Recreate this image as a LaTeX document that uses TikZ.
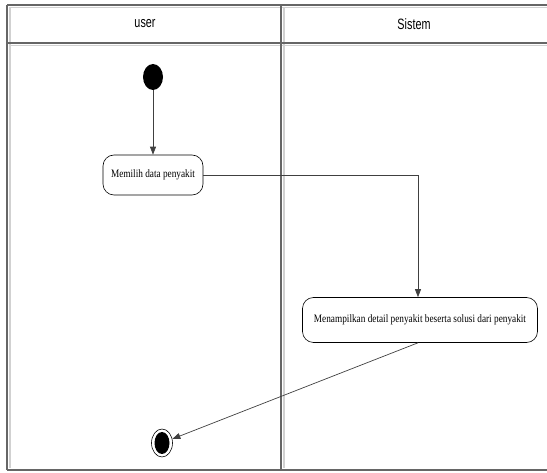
\documentclass[tikz,border=0pt]{standalone}
\usepackage{fontspec}
\setmainfont{Liberation Serif}
\newfontfamily\headfont[FakeStretch=0.72]{Liberation Sans}
\newfontfamily\actfont[FakeStretch=0.82]{Liberation Serif}
\usetikzlibrary{arrows.meta,shapes.geometric}
\begin{document}
\begin{tikzpicture}[x=1pt,y=-1pt,
  lane/.style={draw=black!60,line width=1.1pt},
  lanelight/.style={draw=black!18,line width=1.2pt},
  activity/.style={draw,rounded corners=11pt,line width=0.6pt,minimum height=40pt,inner xsep=3pt,font=\actfont\fontsize{11.3}{13}\selectfont},
  header/.style={font=\headfont\fontsize{15}{17}\selectfont},
  flow/.style={draw=black!75,line width=0.7pt,-{Triangle[width=6pt,length=8pt]}},
]
\useasboundingbox (0,0) rectangle (547,473);
% swimlane frame
\draw[lanelight] (10,7.5) -- (547,7.5);
\draw[lanelight] (10,45.5) -- (547,45.5);
\draw[lanelight] (10,7) -- (10,468);
\draw[lanelight] (284,7) -- (284,468);
\draw[lane] (7,5) -- (547,5);
\draw[lane] (7,43) -- (547,43);
\draw[lane] (7,5) -- (7,470);
\draw[lane] (281,5) -- (281,470);
\draw[lane] (7,470) -- (547,470);
\node[header] (huser) at (145,24) {user};
\node[header] (hsis) at (414,24) {Sistem};
% nodes
\node[ellipse,fill=black,minimum width=20pt,minimum height=26pt,inner sep=0pt] (start) at (153,77) {};
\node[activity,minimum width=100pt] (a1) at (153,175) {Memilih data penyakit};
\node[activity,minimum width=235pt,minimum height=45pt] (a2) at (420,320) {Menampilkan detail penyakit beserta solusi dari penyakit};
\node[ellipse,draw,line width=0.6pt,fill=white,minimum width=21pt,minimum height=28pt,inner sep=0pt] (end) at (162,443) {};
\node[ellipse,fill=black,minimum width=15pt,minimum height=22pt,inner sep=0pt] (endin) at (end.center) {};
% flows
\draw[flow] (start) -- (a1);
\draw[flow] (a1.east) -| (a2.north -| 418,0);
\draw[flow] (a2.south -| 418,0) -- (end);
\end{tikzpicture}
\end{document}
